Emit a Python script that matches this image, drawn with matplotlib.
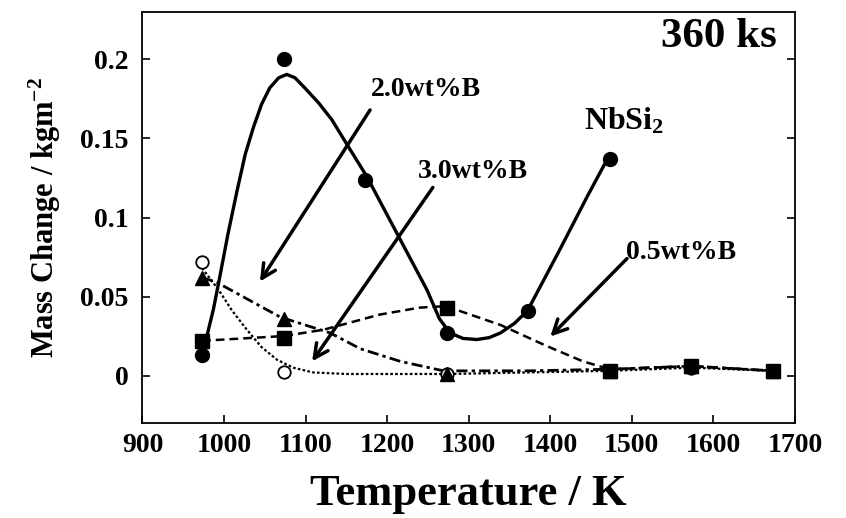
import numpy as np
import matplotlib
matplotlib.use("Agg")
import matplotlib.pyplot as plt

plt.rcParams["font.family"] = ["Liberation Serif", "DejaVu Serif"]
plt.rcParams["font.weight"] = "bold"
plt.rcParams["axes.labelweight"] = "bold"
plt.rcParams["mathtext.fontset"] = "custom"
plt.rcParams["mathtext.rm"] = "Liberation Serif:bold"
plt.rcParams["mathtext.default"] = "rm"

# measured points (temperature K, mass change kg/m^2)
temps = [973, 1073, 1173, 1273, 1373, 1473, 1573, 1673]
nbsi2 = [0.013, 0.200, 0.124, 0.027, 0.041, 0.137]
b05 = [0.022, 0.024, None, 0.043, None, 0.003, 0.006, 0.003]
b20 = [0.062, 0.036, None, 0.001, None, 0.003, 0.006, 0.003]
b30 = [0.072, 0.002, None, 0.001, None, 0.003, 0.005, 0.003]

# guide curves
nbsi2_T = [973, 979, 987, 995, 1005, 1016, 1026, 1036, 1046, 1056, 1067, 1077,
           1087, 1099, 1116, 1132, 1151, 1175, 1214, 1249, 1264, 1277, 1293,
           1310, 1325, 1339, 1356, 1372, 1412, 1445, 1471]
nbsi2_y = [0.0165, 0.025, 0.042, 0.063, 0.090, 0.117, 0.140, 0.157, 0.1716, 0.182,
           0.1884, 0.1905, 0.1884, 0.182, 0.1725, 0.162, 0.146, 0.126, 0.088,
           0.054, 0.036, 0.027, 0.0235, 0.0228, 0.024, 0.027, 0.033, 0.041,
           0.080, 0.113, 0.138]
b05_T = [973, 1073, 1122, 1191, 1240, 1275, 1290, 1339, 1396, 1440, 1473, 1573, 1673]
b05_y = [0.022, 0.025, 0.029, 0.0386, 0.043, 0.044, 0.0407, 0.032, 0.0186, 0.009,
         0.004, 0.006, 0.003]
b20_T = [973, 991, 1069, 1130, 1167, 1216, 1269, 1373, 1473, 1573, 1673]
b20_y = [0.062, 0.059, 0.037, 0.027, 0.017, 0.009, 0.003, 0.003, 0.004, 0.006, 0.003]
b30_T = [973, 993, 1010, 1028, 1046, 1065, 1085, 1109, 1150, 1273, 1473, 1573, 1673]
b30_y = [0.068, 0.0545, 0.041, 0.029, 0.018, 0.010, 0.005, 0.002, 0.001, 0.001,
         0.003, 0.005, 0.003]


def pts(vals):
    x = [t for t, v in zip(temps, vals) if v is not None]
    y = [v for v in vals if v is not None]
    return x, y


fig = plt.figure(figsize=(8.46, 5.18), dpi=100)
ax = fig.add_axes([0.1684, 0.1834, 0.7713, 0.7934])

# curves
ax.plot(nbsi2_T, nbsi2_y, "-", color="black", lw=2.4, solid_capstyle="round",
        solid_joinstyle="round")
ax.plot(b05_T, b05_y, color="black", lw=1.8, dashes=(3.5, 2))
ax.plot(b20_T, b20_y, color="black", lw=2.0, dashes=(4, 1.5, 1.2, 1.5))
ax.plot(b30_T, b30_y, color="black", lw=1.6, dashes=(1.2, 1.0))

# markers
ax.plot(*pts(b30), "o", ms=9, mfc="white", mec="black", mew=1.3, ls="none")
ax.plot(*pts(b20), "^", ms=10, color="black", ls="none")
ax.plot(*pts(b05), "s", ms=10, color="black", ls="none")
ax.plot(temps[:6], nbsi2, "o", ms=10, color="black", ls="none")

# labels with arrows
arrow = dict(arrowstyle="->,head_length=1.0,head_width=0.5", color="black",
             lw=2.5, shrinkA=0, shrinkB=0)
ax.annotate("", xy=(1044, 0.0595), xytext=(1179, 0.168), arrowprops=arrow)
ax.annotate("", xy=(1108, 0.009), xytext=(1256, 0.119), arrowprops=arrow)
ax.annotate("", xy=(1400, 0.0247), xytext=(1494, 0.074), arrowprops=arrow)
ax.text(1180, 0.181, "2.0wt%B", fontsize=20, ha="left", va="center")
ax.text(1238, 0.129, "3.0wt%B", fontsize=20, ha="left", va="center")
ax.text(1493, 0.078, "0.5wt%B", fontsize=20, ha="left", va="center")
ax.text(1441, 0.161, r"NbSi$_2$", fontsize=23, ha="left", va="center")
ax.text(1678, 0.214, "360 ks", fontsize=31, ha="right", va="center")

ax.set_xlim(900, 1700)
ax.set_ylim(-0.03, 0.23)
ax.set_xticks(range(900, 1701, 100))
ax.set_yticks([0, 0.05, 0.1, 0.15, 0.2])
ax.set_yticklabels(["0", "0.05", "0.1", "0.15", "0.2"])
ax.tick_params(axis="both", direction="in", length=6, width=1.2, labelsize=20)
ax.tick_params(axis="y", right=True, pad=10)
ax.tick_params(axis="x", pad=7)
for s in ax.spines.values():
    s.set_linewidth(1.3)

ax.set_xlabel("Temperature / K", fontsize=32, labelpad=12)
ax.set_ylabel(r"Mass Change / kgm$^{-2}$", fontsize=22, labelpad=12)

fig.savefig("out.png", dpi=100)
